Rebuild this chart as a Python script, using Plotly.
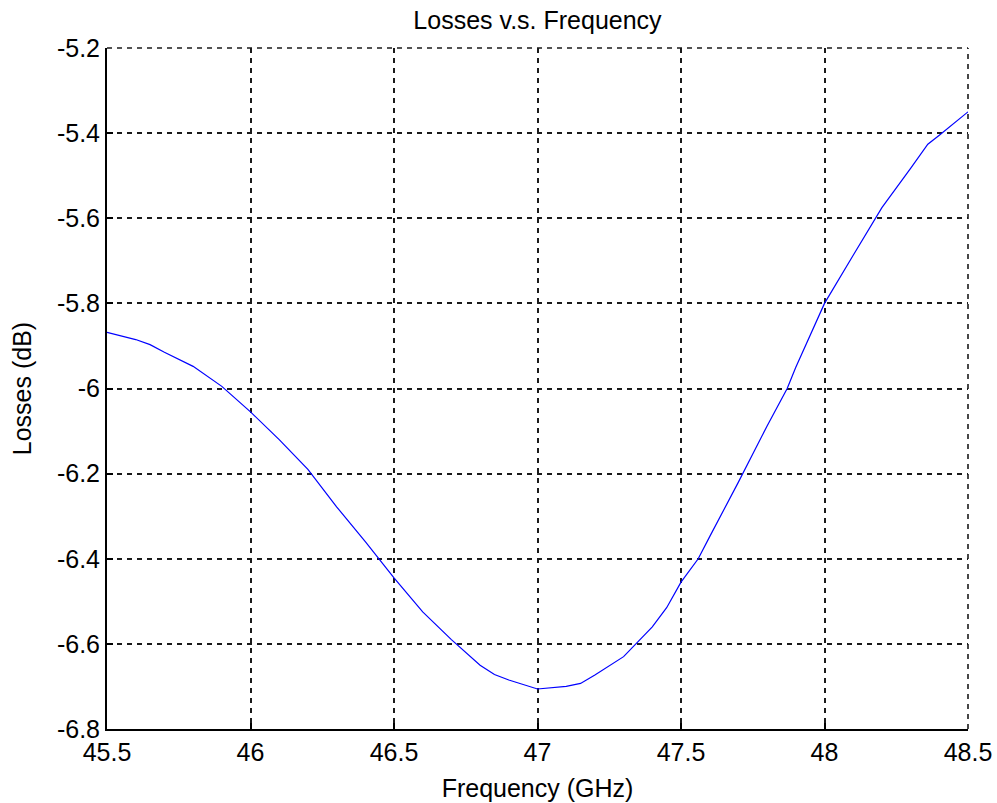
import plotly.graph_objects as go

# Measured insertion loss across the band
freq_ghz = [45.5, 45.6, 45.65, 45.7, 45.8, 45.9, 46.0, 46.1, 46.2, 46.3, 46.4,
            46.5, 46.6, 46.7, 46.8, 46.85, 46.9, 47.0, 47.1, 47.15, 47.2, 47.3,
            47.4, 47.45, 47.5, 47.56, 47.6, 47.7, 47.8, 47.87, 47.9, 48.0,
            48.1, 48.2, 48.3, 48.36, 48.4, 48.5]
loss_db = [-5.868, -5.885, -5.897, -5.915, -5.948, -5.995, -6.055, -6.12, -6.19,
           -6.278, -6.36, -6.445, -6.525, -6.59, -6.65, -6.672, -6.685, -6.706,
           -6.70, -6.693, -6.673, -6.63, -6.56, -6.515, -6.455, -6.40, -6.348,
           -6.22, -6.088, -6.0, -5.95, -5.80, -5.687, -5.575, -5.483, -5.426,
           -5.405, -5.35]

x_ticks = [45.5, 46, 46.5, 47, 47.5, 48, 48.5]
x_tick_text = ["45.5", "46", "46.5", "47", "47.5", "48", "48.5"]
y_ticks = [-6.8, -6.6, -6.4, -6.2, -6.0, -5.8, -5.6, -5.4, -5.2]
y_tick_text = ["-6.8", "-6.6", "-6.4", "-6.2", "-6", "-5.8", "-5.6", "-5.4", "-5.2"]

font_family = "Liberation Sans, Arial, sans-serif"
font_size = 25
grid_dash = "5px,5px"

fig = go.Figure()
fig.add_trace(go.Scatter(
    x=freq_ghz, y=loss_db, mode="lines",
    line=dict(color="#0000ff", width=1.2),
    showlegend=False,
))

axis_common = dict(
    showgrid=True, gridcolor="#1a1a1a", gridwidth=1.6, griddash=grid_dash,
    showline=True, linecolor="black", linewidth=2,
    ticks="inside", ticklen=6, tickcolor="black", tickwidth=1.5,
    zeroline=False, automargin=False,
    tickfont=dict(family=font_family, size=font_size, color="black"),
)

fig.update_layout(
    width=997, height=803,
    margin=dict(l=107, r=29, t=48, b=74),
    paper_bgcolor="white", plot_bgcolor="white",
    title=dict(text="Losses v.s. Frequency", x=(107 + 968) / 2 / 997, xanchor="center",
               y=1 - 20 / 803, yanchor="middle",
               font=dict(family=font_family, size=font_size, color="black")),
    xaxis=dict(range=[45.5, 48.5], tickvals=x_ticks, ticktext=x_tick_text,
               title=dict(text="Frequency (GHz)", standoff=14,
                          font=dict(family=font_family, size=font_size, color="black")),
               **axis_common),
    yaxis=dict(range=[-6.8, -5.2], tickvals=y_ticks, ticktext=y_tick_text,
               title=dict(text="Losses (dB)", standoff=18,
                          font=dict(family=font_family, size=font_size, color="black")),
               **axis_common),
    # dashed grid lines along the top and right edges of the axes box
    shapes=[
        dict(type="line", xref="paper", yref="paper", x0=0, x1=1, y0=1, y1=1,
             line=dict(color="#1a1a1a", width=1.6, dash=grid_dash)),
        dict(type="line", xref="paper", yref="paper", x0=1, x1=1, y0=0, y1=1,
             line=dict(color="#1a1a1a", width=1.6, dash=grid_dash)),
    ],
)

fig.write_html("out.html")
